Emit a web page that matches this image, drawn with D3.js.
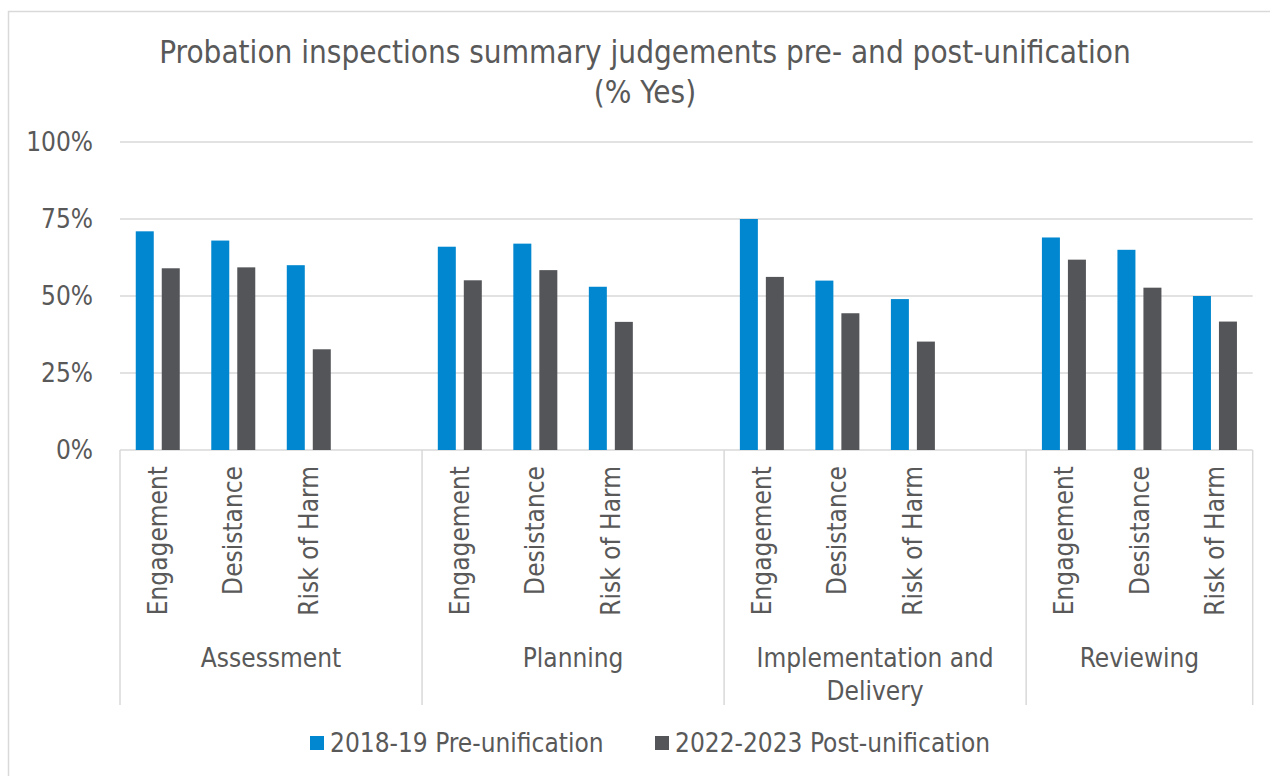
<!DOCTYPE html>
<html>
<head>
<meta charset="utf-8">
<script src="https://cdn.jsdelivr.net/npm/d3@7"></script>
<style>
  body { margin: 0; background: #fff; }
  svg text { font-family: "DejaVu Sans Condensed", "DejaVu Sans", sans-serif; font-stretch: condensed; fill: #595959; }
</style>
</head>
<body>
<div class="chart"></div>
<script>
var groups = ["Assessment", "Planning", "Implementation and Delivery", "Reviewing"]
var measures = ["Engagement", "Desistance", "Risk of Harm"]
var seriesNames = ["2018-19 Pre-unification", "2022-2023 Post-unification"]
var pre = [71, 68, 60, 66, 67, 53, 75, 55, 49, 69, 65, 50]
var post = [59, 59.3, 32.7, 55.1, 58.4, 41.6, 56.2, 44.4, 35.2, 61.8, 52.7, 41.7]
var yTicks = [0, 25, 50, 75, 100]
var colors = ["#0087cf", "#545559"]

var width = 1270, height = 776
var margin = {top: 142, left: 120, right: 17.3, bottom: 326}
var fontSize = 26

// build slots: 3 measures + one empty slot after every group except the last
var slots = []
groups.forEach(function(g, gi){
  measures.forEach(function(m, mi){
    slots.push({key: g + "|" + m, group: g, measure: m, i: gi * 3 + mi})
  })
  if (gi < groups.length - 1) slots.push({key: g + "|gap", group: g, gap: true})
})

var svg = d3.select(".chart").append("svg")
    .attr("width", width)
    .attr("height", height)

svg.append("rect").attr("width", width).attr("height", height).attr("fill", "#fff")

// chart area border
svg.append("rect")
    .attr("x", 8.5).attr("y", 11.5)
    .attr("width", width).attr("height", height)
    .attr("fill", "none")
    .attr("stroke", "#d9d9d9")
    .attr("stroke-width", 1.5)

var x0 = d3.scaleBand()
    .domain(slots.map(function(d){ return d.key }))
    .range([margin.left, width - margin.right])

var x1 = d3.scaleBand()
    .domain(seriesNames)
    .range([0, x0.bandwidth()])
    .paddingInner(0.3077)
    .paddingOuter(0.606)

var y = d3.scaleLinear().domain([0, 100]).range([height - margin.bottom, margin.top])

// title
var title = svg.append("text")
    .attr("text-anchor", "middle")
    .attr("font-size", 31.2)
title.append("tspan").attr("x", 645).attr("y", 63).text("Probation inspections summary judgements pre- and post-unification")
title.append("tspan").attr("x", 645).attr("y", 103).text("(% Yes)")

// gridlines
svg.append("g")
  .selectAll("line")
  .data(yTicks)
  .enter().append("line")
    .attr("x1", margin.left)
    .attr("x2", width - margin.right)
    .attr("y1", function(d){ return y(d) })
    .attr("y2", function(d){ return y(d) })
    .attr("stroke", "#d9d9d9")
    .attr("stroke-width", 1.5)

// y axis labels
var yAxis = svg.append("g")
    .attr("transform", "translate(" + margin.left + ",0)")
    .call(d3.axisLeft(y).tickValues(yTicks).tickSize(0).tickPadding(27).tickFormat(function(d){ return d + "%" }))
yAxis.select(".domain").remove()
yAxis.selectAll("text")
    .attr("font-size", fontSize)
    .attr("fill", "#595959")
    .attr("font-family", null)

// bars
var dataSlots = slots.filter(function(d){ return !d.gap })
var values = [pre, post]
var barGroups = svg.append("g")
  .selectAll("g")
  .data(dataSlots)
  .enter().append("g")
    .attr("transform", function(d){ return "translate(" + x0(d.key) + ",0)" })

barGroups.selectAll("rect")
  .data(function(d){ return seriesNames.map(function(s, si){ return {series: s, si: si, value: values[si][d.i]} }) })
  .enter().append("rect")
    .attr("x", function(d){ return x1(d.series) })
    .attr("width", x1.bandwidth())
    .attr("y", function(d){ return y(d.value) })
    .attr("height", function(d){ return y(0) - y(d.value) })
    .attr("fill", function(d){ return colors[d.si] })

// separators for the grouped axis
var bounds = [0]
slots.forEach(function(d, i){
  if (d.gap || i == slots.length - 1) bounds.push(i + 1)
})
var step = x0.step()
svg.append("g")
  .selectAll("line")
  .data(bounds)
  .enter().append("line")
    .attr("x1", function(b){ return margin.left + b * step })
    .attr("x2", function(b){ return margin.left + b * step })
    .attr("y1", y(0))
    .attr("y2", 705)
    .attr("stroke", "#d9d9d9")
    .attr("stroke-width", 1.5)

// measure labels (rotated)
svg.append("g")
  .selectAll("text")
  .data(dataSlots)
  .enter().append("text")
    .attr("transform", function(d){ return "translate(" + (x0(d.key) + x0.bandwidth() / 2) + ",466) rotate(-90)" })
    .attr("text-anchor", "end")
    .attr("dy", "0.35em")
    .attr("font-size", fontSize)
    .text(function(d){ return d.measure })

// group labels
var groupLabels = svg.append("g")
  .selectAll("text")
  .data(groups)
  .enter().append("text")
    .attr("text-anchor", "middle")
    .attr("font-size", fontSize)
    .attr("transform", function(g, gi){
      var cx = margin.left + (bounds[gi] + bounds[gi + 1]) / 2 * step
      return "translate(" + cx + ",667)"
    })
groupLabels.each(function(g){
  var words = g == "Implementation and Delivery" ? ["Implementation and", "Delivery"] : [g]
  var t = d3.select(this)
  words.forEach(function(w, wi){
    t.append("tspan").attr("x", 0).attr("y", wi * 33).text(w)
  })
})

// legend
var legend = svg.append("g")
var lx = [310, 655]
seriesNames.forEach(function(s, si){
  legend.append("rect")
      .attr("x", lx[si]).attr("y", 736)
      .attr("width", 14).attr("height", 14)
      .attr("fill", colors[si])
  legend.append("text")
      .attr("x", lx[si] + 20).attr("y", 752)
      .attr("font-size", fontSize)
      .text(s)
})
</script>
</body>
</html>
